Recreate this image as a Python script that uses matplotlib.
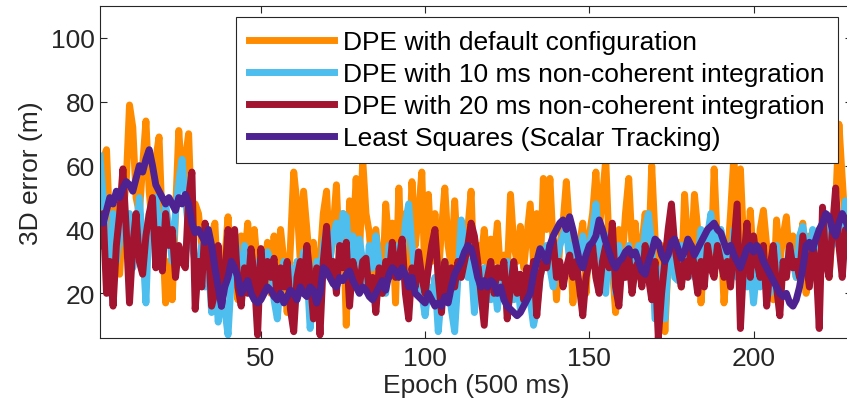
import numpy as np
import matplotlib
matplotlib.use('Agg')
import matplotlib.pyplot as plt

plt.rcParams['font.family'] = ['Liberation Sans', 'DejaVu Sans']

# 3D positioning error per epoch (m)
dpe_default = [
    45, 62, 65, 40, 48, 30, 26, 45, 55, 79,
    72, 50, 45, 60, 74, 52, 40, 62, 69, 40,
    17, 30, 18, 45, 71, 55, 62, 70, 40, 48,
    45, 35, 30, 25, 38, 42, 20, 15, 30, 44,
    25, 35, 18, 38, 30, 42, 22, 40, 28, 34,
    24, 36, 20, 38, 26, 40, 30, 14, 35, 58,
    48, 30, 52, 40, 28, 36, 22, 30, 45, 52,
    30, 40, 54, 28, 45, 10, 49, 35, 56, 30,
    62, 45, 39, 25, 40, 30, 20, 48, 35, 42,
    17, 53, 30, 45, 28, 55, 35, 45, 58, 22,
    51, 30, 45, 25, 40, 53, 35, 28, 49, 30,
    42, 26, 40, 52, 22, 35, 30, 40, 28, 37,
    30, 42, 25, 32, 26, 51, 35, 30, 41, 28,
    38, 48, 30, 45, 25, 56, 40, 56, 35, 18,
    35, 42, 55, 40, 17, 30, 35, 42, 20, 38,
    45, 58, 40, 50, 62, 35, 28, 14, 40, 30,
    45, 56, 35, 42, 26, 35, 45, 30, 60, 38,
    25, 35, 8, 30, 40, 28, 36, 22, 51, 35,
    30, 51, 40, 17, 32, 40, 28, 59, 35, 40,
    17, 30, 45, 63, 40, 59, 35, 28, 46, 30,
    22, 40, 46, 35, 30, 18, 43, 30, 38, 44,
    30, 38, 25, 35, 42, 20, 38, 30, 35, 40,
    28, 36, 25, 40, 48, 73, 56, 40, 35, 45,
]
dpe_10ms = [
    63, 50, 35, 20, 45, 30, 40, 50, 35, 45,
    28, 40, 50, 35, 17, 45, 38, 50, 42, 35,
    48, 40, 30, 45, 55, 62, 50, 40, 35, 30,
    28, 35, 22, 30, 14, 28, 11, 20, 15, 7,
    25, 39, 30, 20, 35, 25, 30, 18, 28, 32,
    22, 33, 30, 18, 12, 25, 30, 22, 28, 20,
    30, 25, 33, 28, 9, 20, 30, 25, 35, 40,
    30, 38, 42, 35, 45, 44, 30, 38, 25, 37,
    30, 22, 35, 28, 38, 30, 25, 20, 35, 28,
    25, 35, 30, 42, 48, 35, 25, 30, 20, 13,
    22, 18, 25, 8, 20, 30, 25, 15, 8, 25,
    43, 35, 25, 30, 14, 25, 20, 28, 22, 18,
    25, 15, 28, 20, 30, 22, 18, 25, 15, 20,
    28, 18, 10, 15, 25, 30, 35, 28, 22, 30,
    35, 38, 41, 30, 35, 25, 30, 38, 28, 35,
    40, 48, 35, 25, 20, 38, 30, 20, 35, 25,
    30, 35, 22, 28, 35, 30, 40, 45, 35, 12,
    20, 28, 12, 30, 38, 25, 24, 35, 30, 28,
    35, 25, 30, 40, 28, 38, 45, 35, 30, 40,
    35, 28, 30, 40, 25, 35, 30, 22, 30, 17,
    28, 22, 30, 25, 20, 30, 35, 25, 30, 28,
    35, 30, 25, 38, 41, 35, 30, 40, 28, 35,
    30, 38, 42, 35, 40, 45, 38, 49, 40, 45,
]
dpe_20ms = [
    35, 45, 20, 30, 16, 35, 45, 59, 40, 17,
    35, 45, 30, 26, 38, 45, 50, 28, 40, 27,
    45, 35, 40, 25, 35, 30, 28, 50, 58, 15,
    30, 22, 42, 35, 16, 20, 35, 16, 25, 40,
    30, 40, 22, 16, 28, 20, 34, 25, 7, 34,
    22, 30, 25, 31, 18, 28, 22, 30, 15, 8,
    25, 30, 20, 35, 25, 12, 28, 7, 30, 41,
    25, 30, 20, 35, 28, 36, 16, 30, 25, 22,
    30, 31, 20, 25, 14, 28, 20, 30, 25, 36,
    25, 30, 37, 20, 12, 28, 22, 33, 25, 20,
    28, 35, 40, 25, 14, 30, 20, 28, 22, 30,
    25, 30, 35, 42, 38, 30, 20, 10, 25, 30,
    20, 28, 25, 30, 12, 22, 30, 20, 26, 18,
    28, 22, 30, 13, 25, 30, 28, 35, 37, 25,
    30, 22, 28, 32, 25, 30, 22, 13, 25, 30,
    35, 25, 20, 30, 35, 28, 42, 22, 16, 30,
    25, 32, 20, 28, 30, 22, 35, 25, 18, 30,
    6, 20, 30, 40, 48, 35, 28, 22, 30, 25,
    35, 28, 20, 30, 22, 35, 28, 25, 35, 30,
    25, 30, 22, 35, 48, 9, 30, 42, 25, 38,
    30, 25, 35, 16, 28, 35, 22, 13, 30, 25,
    35, 28, 30, 25, 38, 30, 22, 35, 30, 9,
    47, 30, 25, 40, 53, 35, 25, 40, 30, 38,
]
least_squares = [
    44, 42, 46, 50, 48, 52, 50, 53, 55, 54,
    52, 56, 60, 58, 62, 65, 60, 54, 52, 50,
    48, 50, 48, 46, 50, 48, 51, 48, 42, 39,
    40, 38, 36, 40, 35, 28, 22, 16, 22, 25,
    30, 28, 25, 20, 22, 24, 20, 18, 17, 18,
    20, 22, 21, 19, 18, 20, 17, 19, 21, 20,
    18, 22, 20, 19, 22, 21, 17, 20, 28, 27,
    25, 23, 22, 25, 24, 26, 27, 24, 22, 20,
    22, 21, 19, 18, 20, 22, 24, 21, 26, 28,
    27, 25, 28, 26, 22, 25, 20, 19, 18, 17,
    20, 18, 16, 17, 16, 19, 17, 22, 26, 28,
    30, 33, 35, 34, 30, 25, 22, 24, 22, 24,
    23, 20, 22, 18, 16, 15, 14, 13, 14, 16,
    18, 20, 26, 30, 34, 32, 30, 35, 38, 40,
    42, 43, 40, 44, 40, 35, 30, 28, 32, 35,
    36, 38, 43, 40, 36, 33, 30, 28, 30, 31,
    33, 34, 32, 33, 30, 27, 26, 30, 33, 37,
    36, 32, 30, 32, 36, 37, 34, 31, 33, 37,
    35, 32, 34, 36, 38, 40, 41, 42, 40, 39,
    36, 33, 35, 32, 30, 28, 31, 34, 35, 33,
    35, 33, 30, 28, 26, 24, 22, 20, 19, 20,
    17, 16, 18, 22, 28, 35, 36, 34, 37, 40,
    42, 45, 44, 40, 38, 42, 45, 43, 40, 38,
]
labels = ['DPE with default configuration',
          'DPE with 10 ms non-coherent integration',
          'DPE with 20 ms non-coherent integration',
          'Least Squares (Scalar Tracking)']
colors = ['#FF8C00', '#4DBEEE', '#A2142F', '#4E2291']

epochs = np.arange(1, len(dpe_default) + 1)

fig = plt.figure(figsize=(8.47, 4.14), dpi=100)
ax = fig.add_axes([0.118, 0.181, 0.888, 0.802])

for series, lab, col in zip([dpe_default, dpe_10ms, dpe_20ms, least_squares], labels, colors):
    ax.plot(epochs, series, color=col, lw=5, label=lab, solid_joinstyle='round')

ax.set_xlim(1, 230)
ax.set_ylim(6, 110)
ax.set_xticks([50, 100, 150, 200])
ax.set_yticks([20, 40, 60, 80, 100])
ax.tick_params(direction='in', length=5, width=0.8, colors='#262626', labelsize=19,
               top=True, right=True)
ax.tick_params(axis='x', pad=6)
for sp in ax.spines.values():
    sp.set_color('#262626')
    sp.set_linewidth(0.8)
ax.set_xlabel('Epoch (500 ms)', fontsize=19, color='#262626', labelpad=2)
ax.set_ylabel('3D error (m)', fontsize=19, color='#262626', labelpad=6)

leg = ax.legend(loc='upper right', bbox_to_anchor=(0.989, 0.957), bbox_transform=fig.transFigure,
                fontsize=19, frameon=True, fancybox=False, framealpha=1, edgecolor='#262626',
                handlelength=3.2, labelspacing=0.3, borderaxespad=0, handletextpad=0.35,
                borderpad=0.5)
leg.get_frame().set_linewidth(0.8)

fig.savefig('out.png', dpi=100)
